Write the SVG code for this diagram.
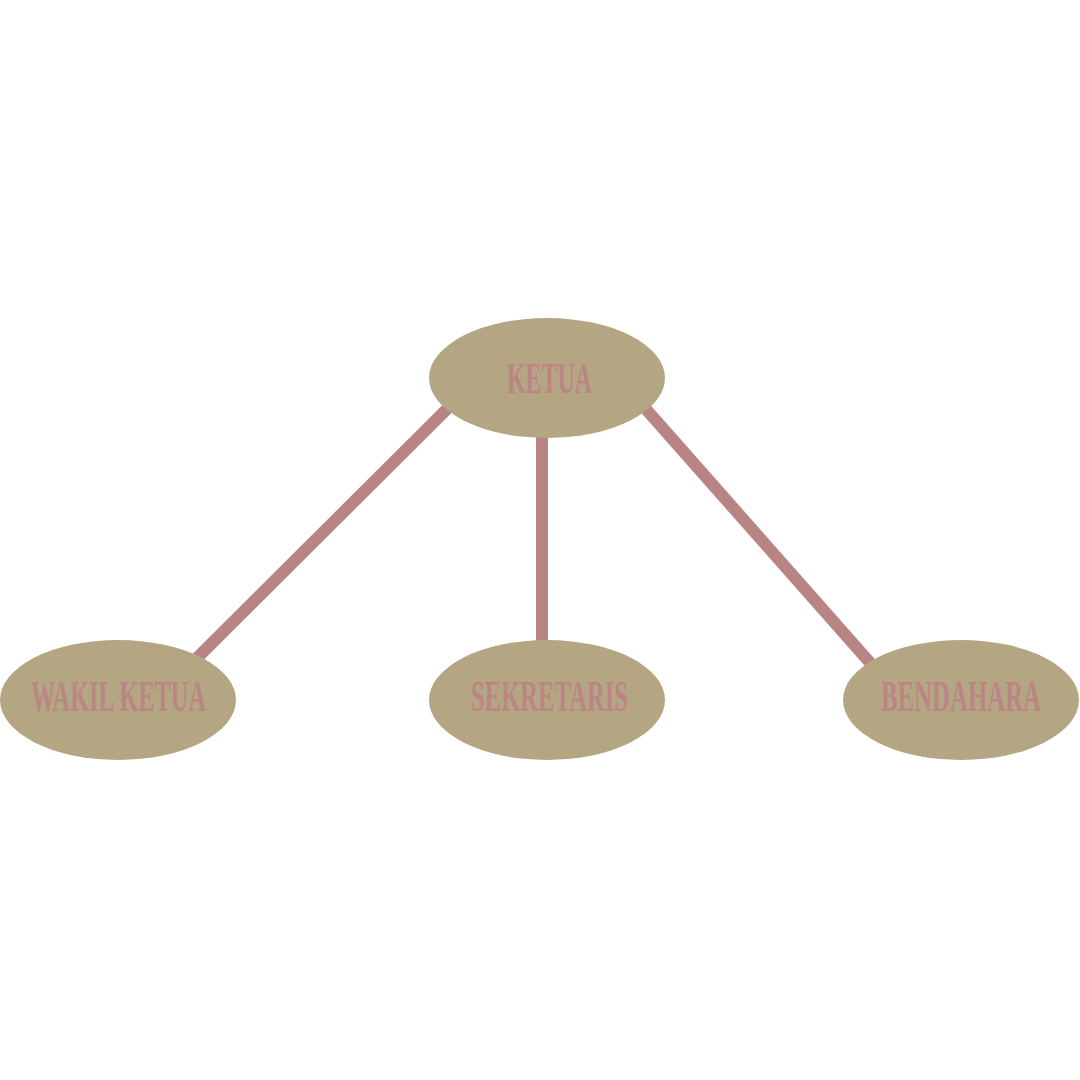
<svg xmlns="http://www.w3.org/2000/svg" width="1080" height="1080" viewBox="0 0 1080 1080">
<style>
.node ellipse{fill:#b5a683}
.node text{fill:#bc8585;font-family:"Liberation Serif",serif;font-weight:bold;font-size:45px}
.conn line{stroke:#b98484;stroke-width:12}
</style>
<rect width="1080" height="1080" fill="#ffffff"/>
<g id="connectors" class="conn">
<line x1="458" y1="398" x2="188" y2="667"/>
<line x1="542" y1="420" x2="542" y2="655"/>
<line x1="637" y1="399" x2="880" y2="674"/>
</g>
<g id="ketua" class="node">
<ellipse cx="547" cy="378" rx="118" ry="60"/>
<text x="507" y="393" textLength="85" lengthAdjust="spacingAndGlyphs">KETUA</text>
</g>
<g id="wakil-ketua" class="node">
<ellipse cx="118" cy="700" rx="118" ry="60"/>
<text x="31" y="711" textLength="175" lengthAdjust="spacingAndGlyphs">WAKIL KETUA</text>
</g>
<g id="sekretaris" class="node">
<ellipse cx="547" cy="700" rx="118" ry="60"/>
<text x="471" y="711" textLength="157" lengthAdjust="spacingAndGlyphs">SEKRETARIS</text>
</g>
<g id="bendahara" class="node">
<ellipse cx="961" cy="700" rx="118" ry="60"/>
<text x="881" y="711" textLength="160" lengthAdjust="spacingAndGlyphs">BENDAHARA</text>
</g>
</svg>
